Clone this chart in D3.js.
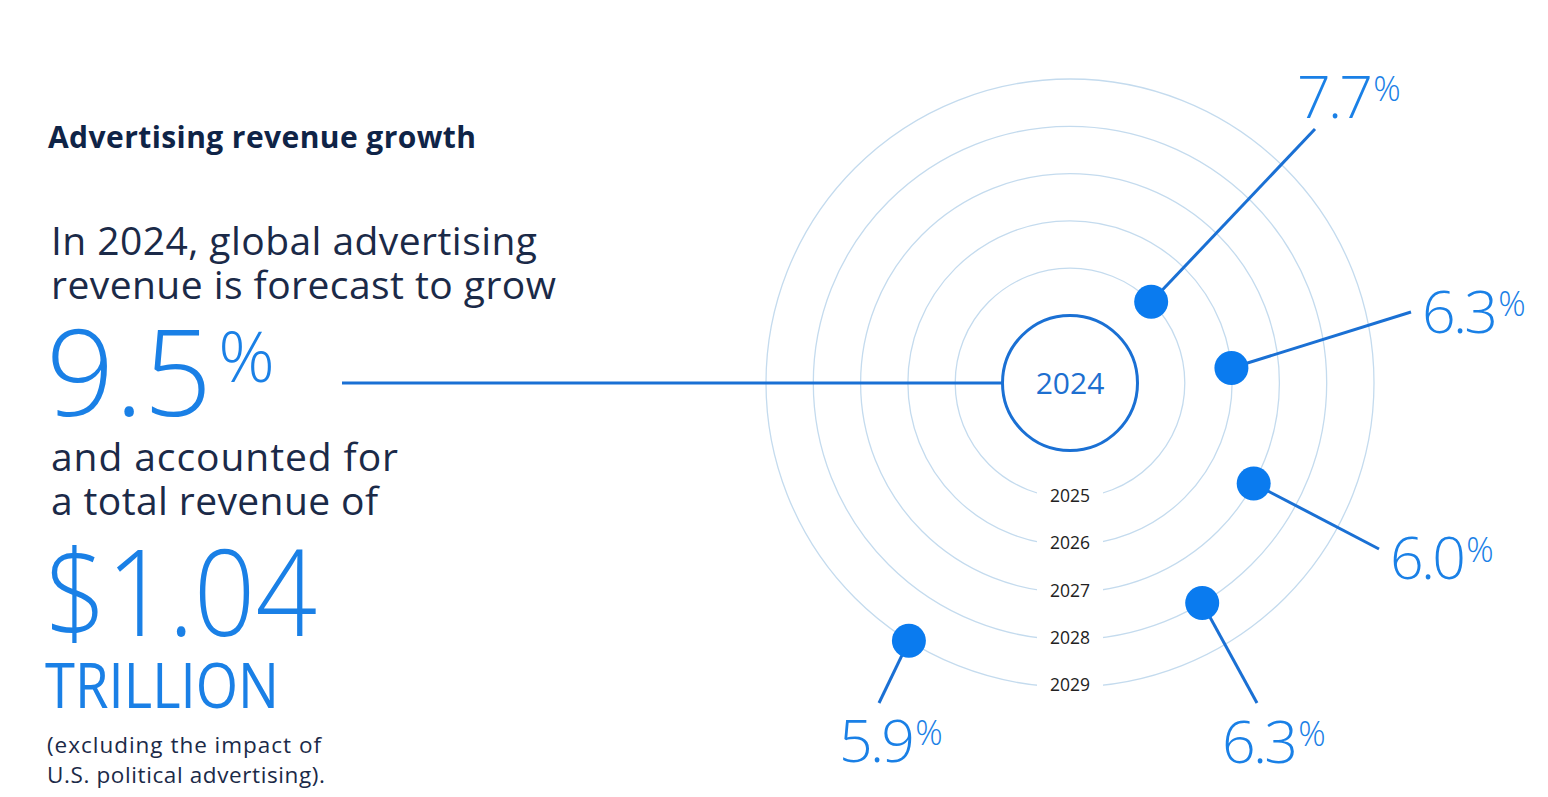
<!DOCTYPE html>
<html>
<head>
<meta charset="utf-8">
<script src="https://cdn.jsdelivr.net/npm/d3@7"></script>
<style>
  html, body { margin: 0; padding: 0; background: #ffffff; }
  svg { display: block; }
</style>
</head>
<body>
<script>
// ---------------- data ----------------
const baseYear = 2024;
const baseGrowth = "9.5";
const years = [2025, 2026, 2027, 2028, 2029];
const growth = [7.7, 6.3, 6.0, 6.3, 5.9];
const titleText = "Advertising revenue growth";
const introLines = ["In 2024, global advertising", "revenue is forecast to grow"];
const midLines = ["and accounted for", "a total revenue of"];
const revenueValue = "$1.04";
const revenueUnit = "TRILLION";
const noteLines = ["(excluding the impact of", "U.S. political advertising)."];

// ---------------- layout (not data) ----------------
const W = 1548, H = 797;
const cx = 1070, cy = 383;
const dotAngles = [-45, -5.3, 28.7, 59, 122];            // degrees, 0 = right, clockwise
const leaderEnds = [[245, -254], [341, -71], [309, 166], [187, 320], [-191, 320]]; // offsets from centre
const labelPos = [[227, -265], [352, -50], [320, 196], [152, 380], [-231, 379]];   // offsets from centre
const introWidths = [486, 505];
const midWidths = [347, 327];
const noteWidths = [274, 278];

const C = {
  navy: "#0f2447",
  text: "#1b2a48",
  blue: "#1a80e6",
  dot: "#0a7bef",
  line: "#1a70d4",
  ring: "#c4dbee",
  year: "#222222"
};
const FONT = "'Open Sans', 'Noto Sans', sans-serif";

const svg = d3.select("body").append("svg").attr("width", W).attr("height", H);

// radius scale for years
const r = d3.scaleLinear().domain([baseYear, d3.max(years)]).range([67.5, 304]);

// concentric rings
svg.append("g").selectAll("circle").data(years).join("circle")
  .attr("cx", cx).attr("cy", cy).attr("r", d => r(d))
  .attr("fill", "none").attr("stroke", C.ring).attr("stroke-width", 1.3);

// year labels with gaps on the rings
const yl = svg.append("g").selectAll("g").data(years).join("g")
  .attr("transform", d => `translate(${cx},${cy + r(d) - 2})`);
yl.append("rect").attr("x", -33).attr("y", -11).attr("width", 66).attr("height", 22).attr("fill", "#fff");
yl.append("text").attr("text-anchor", "middle").attr("dy", "0.36em")
  .attr("font-family", FONT).attr("font-size", 17.5).attr("fill", C.year)
  .text(d => d);

// horizontal leader from 9.5% to 2024 circle
svg.append("line").attr("x1", 342).attr("x2", cx - r(baseYear)).attr("y1", cy).attr("y2", cy)
  .attr("stroke", C.line).attr("stroke-width", 3);

// centre circle
svg.append("circle").attr("cx", cx).attr("cy", cy).attr("r", r(baseYear))
  .attr("fill", "#fff").attr("stroke", C.line).attr("stroke-width", 3);
svg.append("text").attr("x", cx).attr("y", cy).attr("dy", "0.36em").attr("text-anchor", "middle")
  .attr("font-family", FONT).attr("font-size", 30).attr("fill", "#1d6fd0").text(baseYear);

// growth points
const pts = years.map((y, i) => {
  const a = dotAngles[i] * Math.PI / 180;
  return {
    year: y, g: growth[i],
    x: cx + r(y) * Math.cos(a), y: cy + r(y) * Math.sin(a),
    ex: cx + leaderEnds[i][0], ey: cy + leaderEnds[i][1],
    lx: cx + labelPos[i][0], ly: cy + labelPos[i][1]
  };
});

svg.append("g").selectAll("line").data(pts).join("line")
  .attr("x1", d => d.x).attr("y1", d => d.y).attr("x2", d => d.ex).attr("y2", d => d.ey)
  .attr("stroke", C.line).attr("stroke-width", 3);

svg.append("g").selectAll("circle").data(pts).join("circle")
  .attr("cx", d => d.x).attr("cy", d => d.y).attr("r", 17).attr("fill", C.dot);

const pl = svg.append("g").selectAll("text").data(pts).join("text")
  .attr("x", d => d.lx).attr("y", d => d.ly)
  .attr("font-family", FONT).attr("font-weight", 300).attr("fill", C.blue);
pl.append("tspan").attr("font-size", 59).attr("textLength", 76).attr("lengthAdjust", "spacing")
  .text(d => d.g.toFixed(1));
pl.append("tspan").attr("font-size", 34).attr("dx", 3).attr("dy", -17).text("%");

// ---------------- left text block ----------------
const left = svg.append("g").attr("font-family", FONT);

left.append("text").attr("x", 48).attr("y", 148)
  .attr("font-size", 30).attr("font-weight", 700).attr("fill", C.navy)
  .attr("textLength", 428).attr("lengthAdjust", "spacing")
  .text(titleText);

left.selectAll("text.intro").data(introLines).join("text").attr("class", "intro")
  .attr("x", 51).attr("y", (d, i) => 255 + i * 44)
  .attr("font-size", 39).attr("fill", C.text)
  .attr("textLength", (d, i) => introWidths[i]).attr("lengthAdjust", "spacing")
  .text(d => d);

const big = left.append("text").attr("x", 46).attr("y", 416).attr("fill", C.blue).attr("font-weight", 300);
big.append("tspan").attr("font-size", 120).attr("textLength", 166).attr("lengthAdjust", "spacing").text(baseGrowth);
big.append("tspan").attr("font-size", 70).attr("dx", 6).attr("dy", -34).text("%");

left.selectAll("text.mid").data(midLines).join("text").attr("class", "mid")
  .attr("x", 51).attr("y", (d, i) => 471 + i * 44)
  .attr("font-size", 39).attr("fill", C.text)
  .attr("textLength", (d, i) => midWidths[i]).attr("lengthAdjust", "spacing")
  .text(d => d);

left.append("text").attr("x", 45).attr("y", 636)
  .attr("font-size", 120).attr("font-weight", 300).attr("fill", C.blue)
  .attr("textLength", 272).attr("lengthAdjust", "spacingAndGlyphs")
  .text(revenueValue);

left.append("text").attr("x", 45).attr("y", 708)
  .attr("font-size", 62).attr("font-weight", 400).attr("fill", C.blue)
  .attr("textLength", 234).attr("lengthAdjust", "spacingAndGlyphs")
  .text(revenueUnit);

left.selectAll("text.note").data(noteLines).join("text").attr("class", "note")
  .attr("x", 47).attr("y", (d, i) => 753 + i * 30)
  .attr("font-size", 22.5).attr("fill", C.text)
  .attr("textLength", (d, i) => noteWidths[i]).attr("lengthAdjust", "spacing")
  .text(d => d);
</script>
</body>
</html>
